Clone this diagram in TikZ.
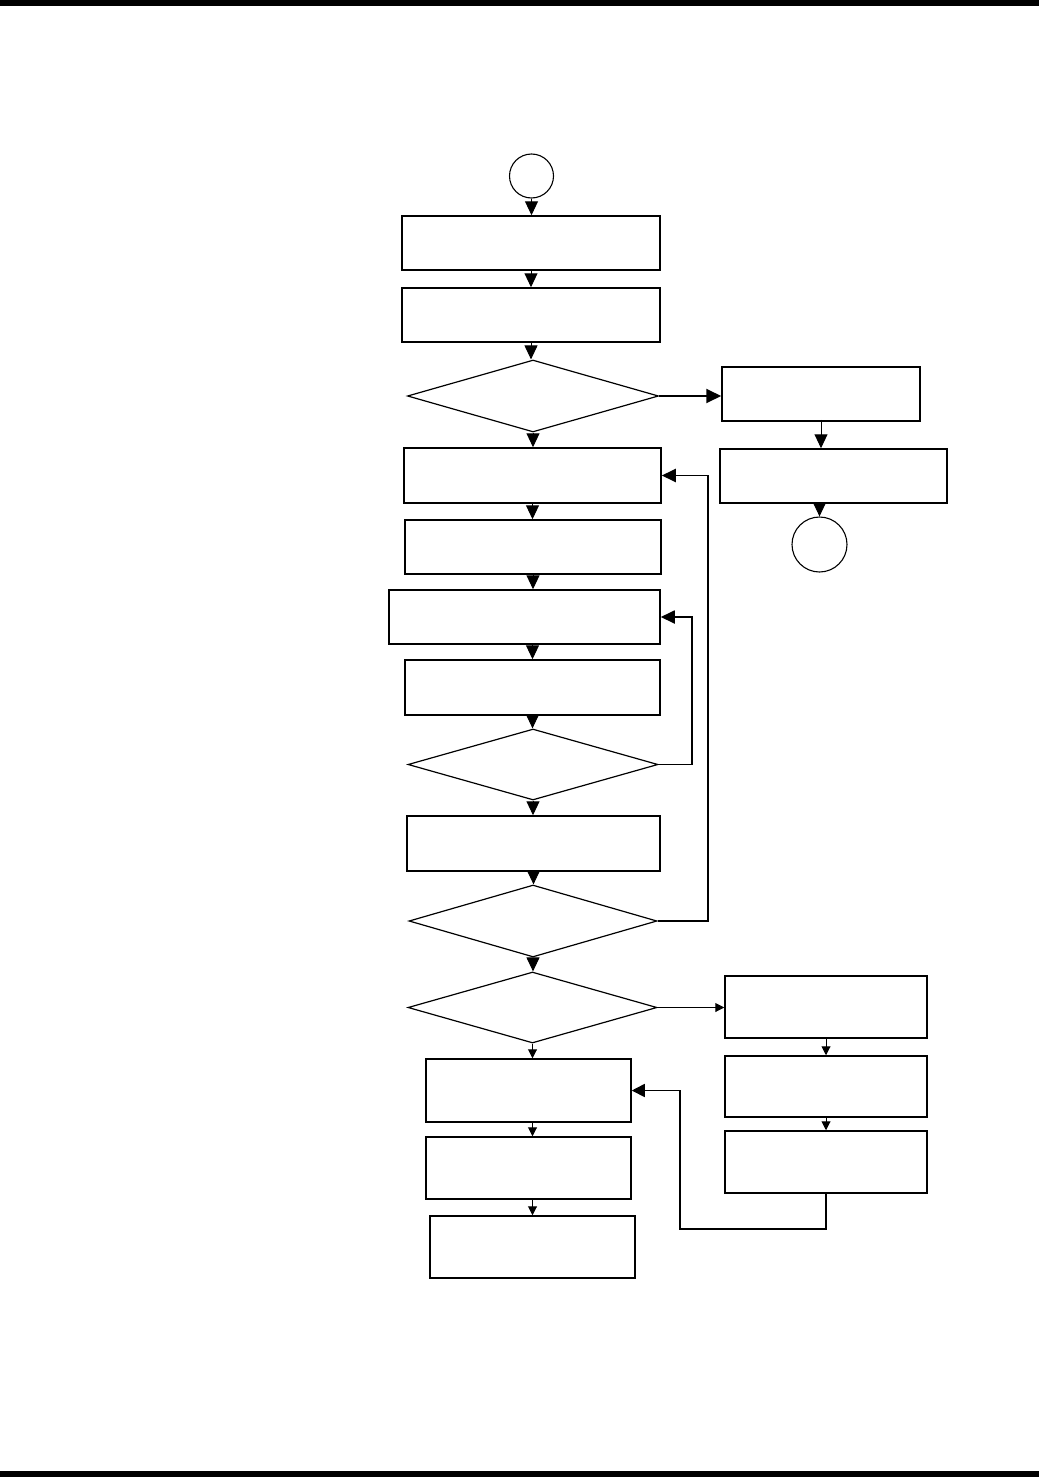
\documentclass[tikz,border=0pt]{standalone}
\usetikzlibrary{shapes.geometric,arrows.meta}
\begin{document}
\begin{tikzpicture}[x=1pt,y=-1pt,
  box/.style={draw,line width=1.5pt,rectangle,inner sep=0pt,fill=white},
  dia/.style={draw,line width=1.2pt,diamond,inner sep=0pt},
  circ/.style={draw,line width=1.1pt,circle,inner sep=0pt},
  bigarr/.style={line width=1pt,-{Triangle[length=14pt,width=13pt]}},
  thickarr/.style={line width=1.9pt,-{Triangle[length=15pt,width=14pt]}},
  thinarr/.style={line width=1pt,-{Triangle[length=9pt,width=9pt]}},
  bar/.style={fill=black,draw=none}]
\useasboundingbox (0,0) rectangle (1039,1477);
\fill[bar] (0,0) rectangle (1039,6);
\fill[bar] (0,1471) rectangle (1039,1477);

% main column
\node[circ,minimum size=44pt] (start) at (531.5,176) {};
\node[box,minimum width=258pt,minimum height=54pt] (b1) at (531,243) {};
\node[box,minimum width=258pt,minimum height=54pt] (b2) at (531,315) {};
\node[dia,minimum width=251pt,minimum height=72pt] (d1) at (533,396) {};
\node[box,minimum width=257pt,minimum height=55pt] (b3) at (532.5,475.5) {};
\node[box,minimum width=256pt,minimum height=54pt] (b4) at (533,547) {};
\node[box,minimum width=271pt,minimum height=54pt] (b5) at (524.5,617) {};
\node[box,minimum width=255pt,minimum height=55pt] (b6) at (532.5,687.5) {};
\node[dia,minimum width=250pt,minimum height=71pt] (d2) at (533,764.5) {};
\node[box,minimum width=253pt,minimum height=55pt] (b7) at (533.5,843.5) {};
\node[dia,minimum width=248pt,minimum height=72pt] (d3) at (533,921) {};
\node[dia,minimum width=249pt,minimum height=71pt] (d4) at (532.5,1007.5) {};

% right branch top
\node[box,minimum width=198pt,minimum height=54pt] (r1) at (821,394) {};
\node[box,minimum width=227pt,minimum height=54pt] (r2) at (833.5,476) {};
\node[circ,minimum size=55pt] (stop) at (819.5,544.5) {};

% bottom part
\node[box,minimum width=202pt,minimum height=62pt] (rA) at (826,1007) {};
\node[box,minimum width=202pt,minimum height=61pt] (rB) at (826,1086.5) {};
\node[box,minimum width=202pt,minimum height=62pt] (rC) at (826,1162) {};
\node[box,minimum width=205pt,minimum height=63pt] (L1) at (528.5,1090.5) {};
\node[box,minimum width=205pt,minimum height=62pt] (L2) at (528.5,1168) {};
\node[box,minimum width=205pt,minimum height=62pt] (L3) at (532.5,1247) {};

% main column arrows
\draw[bigarr] (start.south) -- (start.south |- b1.north);
\draw[bigarr] (b1.south) -- (b1.south |- b2.north);
\draw[bigarr] (b2.south) -- (b2.south |- d1.north);
\draw[bigarr] (d1.south) -- (d1.south |- b3.north);
\draw[bigarr] (b3.south) -- (b3.south |- b4.north);
\draw[bigarr] (b4.south) -- (b4.south |- b5.north);
\draw[bigarr] (b6.north |- b5.south) -- (b6.north);
\draw[bigarr] (b6.south) -- (b6.south |- d2.north);
\draw[bigarr] (d2.south) -- (d2.south |- b7.north);
\draw[bigarr] (b7.south) -- (b7.south |- d3.north);
\draw[bigarr] (d3.south) -- (d3.south |- d4.north);

% right branch
\draw[thickarr] (d1.east) -- (d1.east -| r1.west);
\draw[bigarr] ([yshift=2pt]r1.south) -- (r1.south |- r2.north);
\draw[bigarr] (stop.north |- r2.south) -- (stop.north);

% loops
\draw[line width=1.8pt,-{Triangle[length=14pt,width=13pt]}] (d2.east) -- ++(33,0) |- (b5.east);
\draw[line width=1.9pt,-{Triangle[length=14pt,width=13pt]}] (d3.east) -- ++(50,0) |- (b3.east);

% bottom arrows
\draw[thinarr] (d4.east) -- (d4.east -| rA.west);
\draw[thinarr] (d4.south) -- (d4.south |- L1.north);
\draw[thinarr] (rA.south) -- (rB.north);
\draw[thinarr] (rB.south) -- (rC.north);
\draw[thinarr] (L1.south -| L3.north) -- (L3.north |- L2.north);
\draw[thinarr] (L3.north |- L2.south) -- (L3.north);
\coordinate (k) at (680,1229);
\draw[line width=1.6pt,-{Triangle[length=13pt,width=13pt]}] (rC.south) |- (k) |- (L1.east);
\end{tikzpicture}
\end{document}
